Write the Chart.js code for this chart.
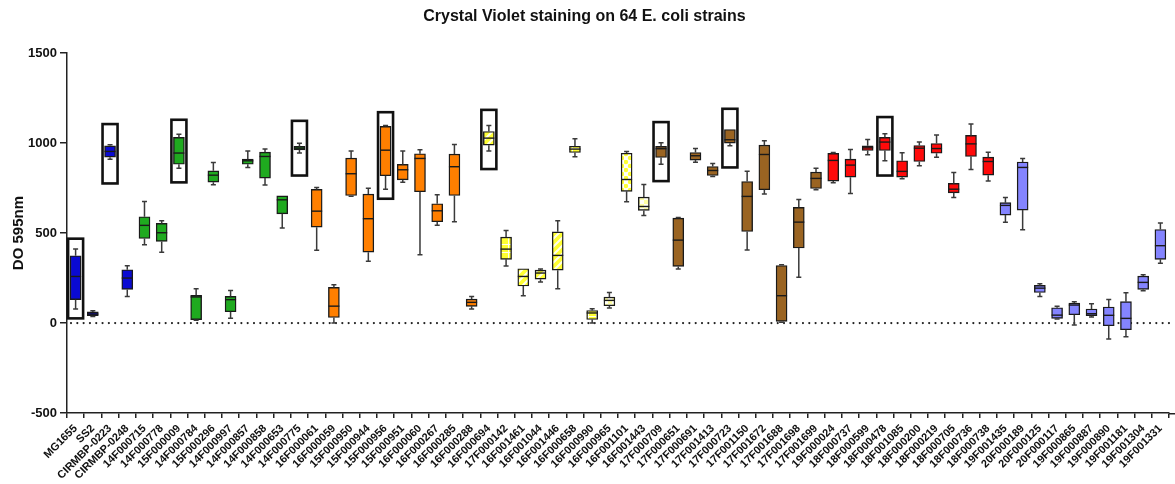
<!DOCTYPE html>
<html>
<head>
<meta charset="utf-8">
<script src="https://cdn.jsdelivr.net/npm/chart.js@4.4.1/dist/chart.umd.min.js"></script>
<style>
  html, body { margin: 0; padding: 0; background: #ffffff; }
  #c { display: block; }
</style>
</head>
<body>
<canvas id="c" width="1175" height="484"></canvas>
<script>
// Strains, in plotting order
const strains = [
  'MG1655','SS2','CIRMBP-0223','CIRMBP-0248',
  '14F000715','14F000778','15F000009','14F000784','15F000296','14F000997','14F000857','14F000858','14F000653','14F000775',
  '16F000061','16F000059','15F000950','15F000944','15F000956','15F000951','16F000060','16F000267','16F000285','16F000288',
  '16F000694','17F000142','16F001461','16F001044','16F001446','16F000658','16F000990','16F000965','16F001101','16F001443',
  '17F000709','17F000651','17F000691','17F001413','17F000723','17F001150','17F001672','17F001688','17F001698','17F001699',
  '19F000024','18F000737','18F000599','18F000478','18F001085','18F000200','18F000219','18F000705','18F000736','18F000738',
  '19F001435','20F000189','20F000125','20F000117','19F000865','19F000887','19F000890','19F001181','19F001304','19F001331'
];

// Five-number summaries of DO 595nm per strain
const minVals = [
  78, 37, 911, 148,
  435, 394, 861, 15, 769, 26, 865, 767, 528, 945,
  404, 0, 705, 343, 744, 782, 380, 544, 563, 78,
  956, 317, 152, 228, 191, 924, 0, 83, 674, 598,
  883, 300, 894, 815, 985, 406, 717, 4, 254, 741,
  780, 720, 935, 902, 802, 874, 922, 698, 854, 789,
  561, 519, 148, 22, -11, 33, -89, -76, 180, 333
];
const q1Vals = [
  130, 41, 922, 187,
  470, 454, 883, 19, 783, 63, 883, 806, 607, 963,
  533, 31, 709, 394, 819, 796, 730, 563, 709, 93,
  989, 354, 206, 244, 294, 948, 20, 96, 732, 626,
  920, 315, 906, 820, 1000, 509, 741, 9, 417, 748,
  789, 811, 959, 959, 811, 898, 944, 724, 926, 822,
  600, 628, 170, 26, 46, 41, -15, -37, 187, 354
];
const medianVals = [
  259, 50, 954, 250,
  543, 502, 945, 145, 822, 130, 902, 926, 685, 972,
  622, 94, 830, 580, 961, 852, 915, 624, 869, 115,
  1028, 411, 259, 278, 376, 967, 56, 126, 798, 648,
  969, 461, 930, 848, 1019, 704, 937, 152, 561, 804,
  904, 878, 974, 1006, 843, 972, 970, 744, 996, 898,
  654, 865, 194, 44, 100, 52, 43, 26, 226, 430
];
const q3Vals = [
  374, 62, 985, 296,
  591, 554, 1032, 154, 846, 148, 911, 950, 707, 982,
  743, 198, 917, 717, 1093, 882, 941, 663, 939, 133,
  1065, 478, 302, 294, 507, 983, 70, 144, 944, 700,
  982, 583, 948, 870, 1076, 787, 989, 320, 643, 839,
  943, 911, 985, 1032, 902, 987, 998, 776, 1043, 922,
  669, 895, 209, 85, 111, 78, 89, 119, 261, 520
];
const maxVals = [
  411, 68, 991, 319,
  676, 569, 1050, 191, 893, 181, 957, 967, 707, 1000,
  754, 213, 956, 750, 1098, 957, 963, 713, 993, 148,
  1098, 515, 302, 300, 569, 1024, 80, 170, 954, 770,
  1002, 587, 970, 887, 1078, 844, 1013, 324, 687, 861,
  948, 965, 1020, 1052, 946, 1007, 1045, 837, 1106, 950,
  698, 915, 219, 94, 119, 107, 131, 169, 269, 556
];

// Group of each strain (index into groupColors)
const groupSizes = [4, 10, 10, 10, 10, 10, 10];
const groupColors = ['#0a0ad2', '#1faa1f', '#ff7f00', '#ffff33', '#9a6422', '#ff0a0a', '#8484ff'];

// Fill styles for the yellow group
const yellowFills = ['diag', 'grid', 'diag', 'diag', 'diag', 'grid', 'grid', 'light', 'dots', 'light'];

// Strains framed with a black rectangle, and the value range each frame spans
const framedStrains = ['MG1655', 'CIRMBP-0223', '15F000009', '14F000775', '15F000956', '16F000694', '17F000709', '17F000723', '18F000478'];
const frameLow  = [26, 776, 782, 820, 691, 856, 789, 865, 820];
const frameHigh = [469, 1106, 1130, 1124, 1172, 1185, 1117, 1191, 1145];

const yTickValues = [-500, 0, 500, 1000, 1500];

function makePattern(kind) {
  const c = document.createElement('canvas');
  c.width = 8; c.height = 8;
  const g = c.getContext('2d');
  g.fillStyle = kind === 'dots' ? '#ffffff' : '#ffff33';
  g.fillRect(0, 0, 8, 8);
  g.strokeStyle = 'rgba(255,255,255,0.9)';
  g.fillStyle = 'rgba(255,255,255,0.9)';
  if (kind === 'diag') {
    g.lineWidth = 2;
    g.beginPath();
    g.moveTo(-2, 10); g.lineTo(10, -2);
    g.moveTo(-2, 2); g.lineTo(2, -2);
    g.moveTo(6, 10); g.lineTo(10, 6);
    g.stroke();
  } else if (kind === 'grid') {
    g.lineWidth = 1;
    g.beginPath();
    g.moveTo(0, 4.5); g.lineTo(8, 4.5);
    g.moveTo(4.5, 0); g.lineTo(4.5, 8);
    g.stroke();
  } else if (kind === 'light') {
    g.fillStyle = 'rgba(255,255,255,0.55)';
    g.fillRect(0, 0, 8, 8);
    g.fillStyle = 'rgba(255,255,255,0.9)';
    g.fillRect(0, 0, 4, 4);
    g.fillRect(4, 4, 4, 4);
  } else if (kind === 'dots') {
    g.fillStyle = '#ffff33';
    g.beginPath();
    g.arc(2, 2, 2.2, 0, Math.PI * 2);
    g.arc(6, 6, 2.2, 0, Math.PI * 2);
    g.fill();
  }
  return g.createPattern(c, 'repeat');
}

const boxFills = [];
groupSizes.forEach((n, gi) => {
  for (let k = 0; k < n; k++) {
    boxFills.push(gi === 3 ? makePattern(yellowFills[k]) : groupColors[gi]);
  }
});

// Dotted reference line at zero, and the bottom axis line carried to the edge
const zeroLine = {
  id: 'zeroLine',
  beforeDatasetsDraw(chart) {
    const { ctx, chartArea, scales } = chart;
    const y = scales.y.getPixelForValue(0);
    ctx.save();
    ctx.strokeStyle = '#222';
    ctx.lineWidth = 2.2;
    ctx.lineCap = 'round';
    ctx.setLineDash([0.01, 6.3]);
    ctx.beginPath();
    ctx.moveTo(chartArea.left + 4, y);
    ctx.lineTo(chart.width, y);
    ctx.stroke();
    ctx.setLineDash([]);
    ctx.lineCap = 'butt';
    ctx.lineWidth = 1.5;
    ctx.beginPath();
    ctx.moveTo(chartArea.right, chartArea.bottom + 0.75);
    ctx.lineTo(chart.width, chartArea.bottom + 0.75);
    ctx.stroke();
    ctx.restore();
  }
};

// Whiskers, caps and medians drawn on top of the floating boxes
const whiskers = {
  id: 'whiskers',
  afterDatasetsDraw(chart) {
    const { ctx, scales } = chart;
    const xs = scales.x, ys = scales.y;
    const meta = chart.getDatasetMeta(0);
    ctx.save();
    strains.forEach((s, i) => {
      const x = xs.getPixelForValue(i);
      const half = meta.data[i].width / 2;
      const yMin = ys.getPixelForValue(minVals[i]);
      const yMax = ys.getPixelForValue(maxVals[i]);
      const yQ1 = ys.getPixelForValue(q1Vals[i]);
      const yQ3 = ys.getPixelForValue(q3Vals[i]);
      const yMed = ys.getPixelForValue(medianVals[i]);
      ctx.strokeStyle = '#3a3a3a';
      ctx.lineWidth = 1.5;
      ctx.beginPath();
      if (yMax < yQ3 - 0.5) {
        ctx.moveTo(x, yQ3); ctx.lineTo(x, yMax);
        ctx.moveTo(x - 2.5, yMax); ctx.lineTo(x + 2.5, yMax);
      }
      if (yMin > yQ1 + 0.5) {
        ctx.moveTo(x, yQ1); ctx.lineTo(x, yMin);
        ctx.moveTo(x - 2.5, yMin); ctx.lineTo(x + 2.5, yMin);
      }
      ctx.stroke();
      ctx.strokeStyle = '#1a1a1a';
      ctx.lineWidth = 1.4;
      ctx.beginPath();
      ctx.moveTo(x - half, yMed); ctx.lineTo(x + half, yMed);
      ctx.stroke();
    });
    ctx.restore();
  }
};

// Black frames around selected strains
const frames = {
  id: 'frames',
  afterDatasetsDraw(chart) {
    const { ctx, scales } = chart;
    ctx.save();
    ctx.strokeStyle = '#111';
    ctx.lineWidth = 2.6;
    framedStrains.forEach((s, k) => {
      const i = strains.indexOf(s);
      const x = scales.x.getPixelForValue(i);
      const top = scales.y.getPixelForValue(frameHigh[k]);
      const bottom = scales.y.getPixelForValue(frameLow[k]);
      ctx.strokeRect(x - 7.5, top, 15, bottom - top);
    });
    ctx.restore();
  }
};

new Chart(document.getElementById('c'), {
  type: 'bar',
  data: {
    labels: strains,
    datasets: [{
      data: q1Vals.map((q, i) => [q, q3Vals[i]]),
      backgroundColor: boxFills,
      borderColor: '#1a1a1a',
      borderWidth: 1.4,
      borderSkipped: false,
      barThickness: 11
    }]
  },
  options: {
    responsive: false,
    devicePixelRatio: 1,
    animation: false,
    layout: { padding: { left: 0, right: 6, top: 0, bottom: 0 } },
    plugins: {
      legend: { display: false },
      tooltip: { enabled: false },
      title: {
        display: true,
        text: 'Crystal Violet staining on 64 E. coli strains',
        color: '#111',
        font: { family: '"Liberation Sans", Arial, sans-serif', size: 16, weight: 'bold' },
        padding: { top: 7, bottom: 27 }
      }
    },
    scales: {
      x: {
        type: 'category',
        offset: true,
        grid: { display: true, drawOnChartArea: false, drawTicks: true, tickLength: 5, color: '#222', lineWidth: 1.5 },
        border: { display: true, color: '#222', width: 1.5 },
        ticks: {
          autoSkip: false,
          minRotation: 45,
          maxRotation: 45,
          padding: 4,
          color: '#111',
          font: { family: '"Liberation Sans", Arial, sans-serif', size: 11, weight: 'bold' }
        },
        afterFit(scale) { scale.height = 71; }
      },
      y: {
        min: -500,
        max: 1500,
        afterBuildTicks(scale) { scale.ticks = yTickValues.map(v => ({ value: v })); },
        grid: { display: true, drawOnChartArea: false, drawTicks: true, tickLength: 7, color: '#222', lineWidth: 1.5 },
        border: { display: true, color: '#222', width: 1.5 },
        ticks: {
          padding: 3,
          color: '#111',
          callback: v => String(v),
          font: { family: '"Liberation Sans", Arial, sans-serif', size: 13, weight: 'bold' }
        },
        title: {
          display: true,
          text: 'DO 595nm',
          color: '#111',
          font: { family: '"Liberation Sans", Arial, sans-serif', size: 15, weight: 'bold' },
          padding: { top: 10, bottom: 0 }
        },
        afterFit(scale) { scale.width = 67; }
      }
    }
  },
  plugins: [zeroLine, whiskers, frames]
});
</script>
</body>
</html>
